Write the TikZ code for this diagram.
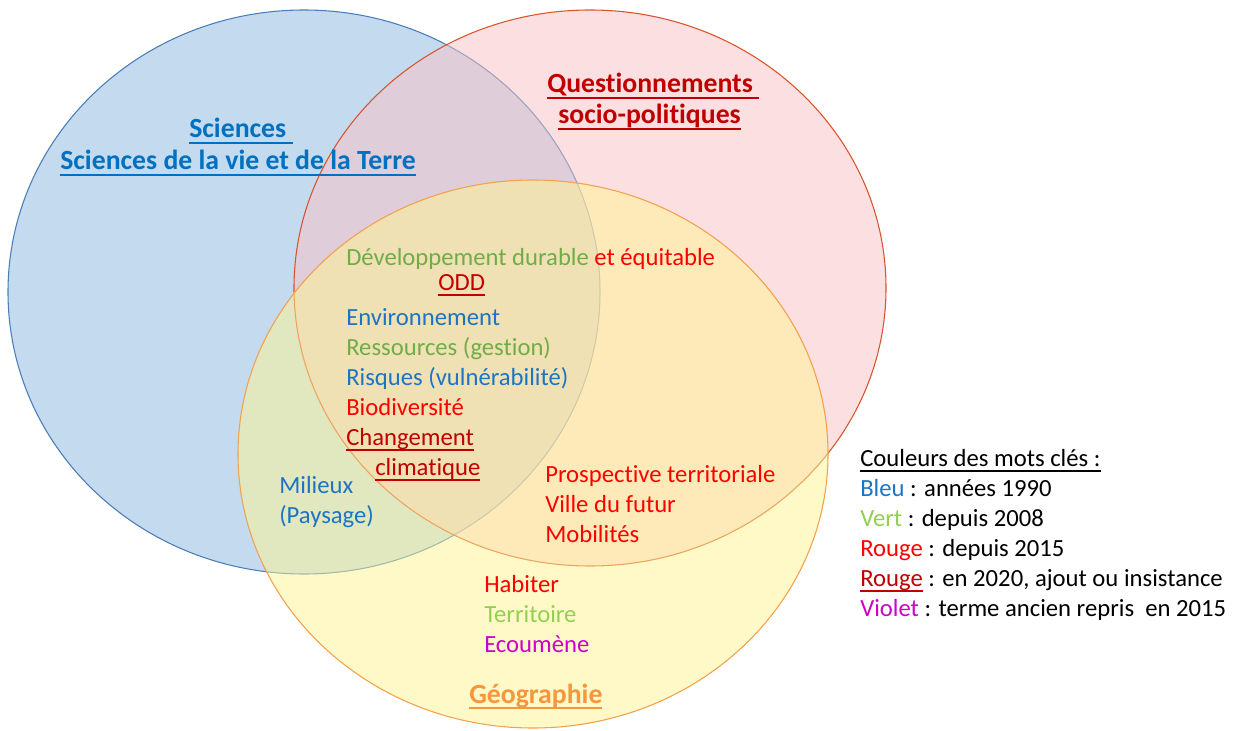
\documentclass[tikz,border=0pt]{standalone}
\usepackage{fontspec}
\setmainfont{Carlito}[Ligatures=NoCommon]
\newsavebox{\myulbox}
\newcommand{\myul}[1]{\sbox{\myulbox}{#1}\rlap{\rule[-4.4pt]{\wd\myulbox}{1.2pt}}\usebox{\myulbox}}
\definecolor{blueborder}{HTML}{4A7EBB}
\definecolor{bluefill}{HTML}{8BB7E1}
\definecolor{redborder}{HTML}{D9542B}
\definecolor{redfill}{HTML}{FBC1C5}
\definecolor{yelborder}{HTML}{F5A04A}
\definecolor{yelfill}{HTML}{FFF591}
\definecolor{ttitleblue}{HTML}{0070C0}
\definecolor{tblue}{HTML}{1E74C4}
\definecolor{tgreen}{HTML}{70AD47}
\definecolor{tlgreen}{HTML}{92D050}
\definecolor{tred}{HTML}{FF0000}
\definecolor{tdred}{HTML}{C00000}
\definecolor{tviolet}{HTML}{CC00CC}
\definecolor{torange}{HTML}{F7963C}
\begin{document}
\begin{tikzpicture}[x=0.75pt,y=-0.75pt,
  txt/.style={anchor=base west, inner sep=0pt, font=\fontsize{18.5}{22}\selectfont},
  btxt/.style={txt, font=\fontsize{20.8}{24}\selectfont\bfseries},
  circ/.style={line width=0.8pt, fill opacity=0.5}]
\useasboundingbox (0,0) rectangle (1241,731);
\fill[white] (0,0) rectangle (1241,731);
% circles
\draw[circ, draw=blueborder, fill=bluefill] (304,292) ellipse [x radius=222pt, y radius=211.5pt];
\draw[circ, draw=redborder, fill=redfill] (590,288) ellipse [x radius=222pt, y radius=208.5pt];
\draw[circ, draw=yelborder, fill=yelfill] (533,454) ellipse [x radius=221.25pt, y radius=205.5pt];
% titles
\node[btxt, text=ttitleblue] (sci1) at (189,138) {\myul{Sciences\ }};
\node[btxt, text=ttitleblue] (sci2) at (60,170) {\myul{Sciences de la vie et de la Terre}};
\node[btxt, text=tdred] (q1) at (547,93) {\myul{Questionnements\ }};
\node[btxt, text=tdred] (q2) at (558,124) {\myul{socio-politiques}};
\node[btxt, text=torange] (geo) at (469,703) {\myul{Géographie}};
% centre keywords
\node[txt] (dd) at (346,265) {\color{tgreen}Développement durable \color{tred}et équitable};
\node[txt, text=tdred] (odd) at (438,290) {\myul{ODD}};
\node[txt, text=tblue] (env) at (346,325) {Environnement};
\node[txt, text=tgreen] (res) at (346,355) {Ressources (gestion)};
\node[txt, text=tblue] (ris) at (346,385) {Risques (vulnérabilité)};
\node[txt, text=tred] (bio) at (346,415) {Biodiversité};
\node[txt, text=tdred] (ch1) at (346,445) {\myul{Changement}};
\node[txt, text=tdred] (ch2) at (375,475) {\myul{climatique}};
% others
\node[txt, text=tblue] (mil) at (279,493) {Milieux};
\node[txt, text=tblue] (pay) at (279,523) {(Paysage)};
\node[txt, text=tred] (pro) at (545,482) {Prospective territoriale};
\node[txt, text=tred] (vil) at (545,512) {Ville du futur};
\node[txt, text=tred] (mob) at (545,542) {Mobilités};
\node[txt, text=tred] (hab) at (484,592) {Habiter};
\node[txt, text=tlgreen] (ter) at (484,622) {Territoire};
\node[txt, text=tviolet] (eco) at (484,652) {Ecoumène};
% legend
\node[txt] (lg0) at (860,466) {\myul{Couleurs des mots clés :}};
\node[txt] (lg1) at (860,496) {\color{tblue}Bleu \color{black}: années 1990};
\node[txt] (lg2) at (860,526) {\color{tlgreen}Vert \color{black}: depuis 2008};
\node[txt] (lg3) at (860,556) {\color{tred}Rouge \color{black}: depuis 2015};
\node[txt] (lg4) at (860,586) {{\color{tdred}\myul{Rouge}} : en 2020, ajout ou insistance};
\node[txt] (lg5) at (860,616) {\color{tviolet}Violet \color{black}: terme ancien repris\ \ en 2015};
\end{tikzpicture}
\end{document}
